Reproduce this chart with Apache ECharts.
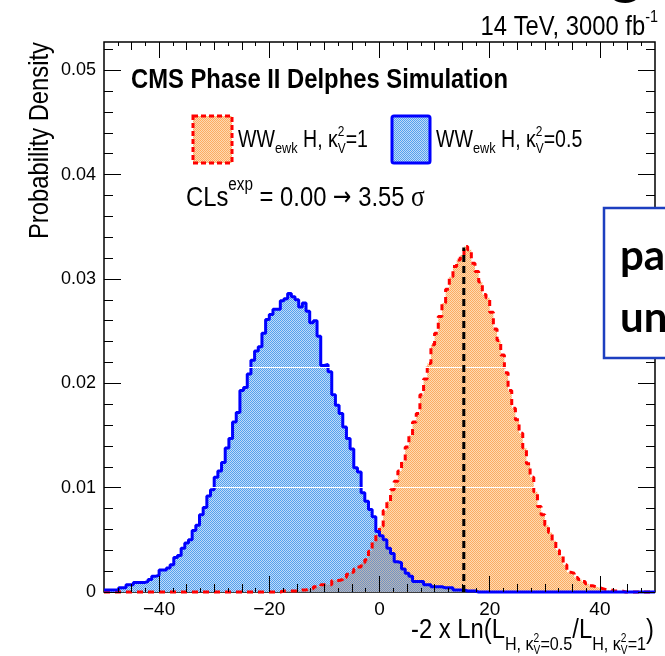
<!DOCTYPE html>
<html>
<head>
<meta charset="utf-8">
<script src="https://cdn.jsdelivr.net/npm/echarts@6/dist/echarts.min.js"></script>
<style>
  html, body { margin: 0; padding: 0; background: #fff; }
  #chart { width: 665px; height: 656px; }
</style>
</head>
<body>
<div id="chart"></div>
<script>
// histogram binning: 150 bins from -50 to 50
const binStart = -50;
const binWidth = 2 / 3;

// WW_ewk H, kappa_V^2 = 0.5  (blue, solid)
const blueValues = [
  0.0002, 0.0002, 0.0002, 0.0002, 0.0004, 0.0004, 0.0007, 0.0007, 0.0009, 0.0009,
  0.0009, 0.0010, 0.0012, 0.0015, 0.0016, 0.0021, 0.0021, 0.0023, 0.0026, 0.0033,
  0.0035, 0.0042, 0.0047, 0.0050, 0.0059, 0.0064, 0.0074, 0.0081, 0.0092, 0.0098,
  0.0110, 0.0116, 0.0124, 0.0138, 0.0147, 0.0163, 0.0172, 0.0193, 0.0196, 0.0209,
  0.0222, 0.0231, 0.0235, 0.0248, 0.0261, 0.0266, 0.0271, 0.0271, 0.0279, 0.0281,
  0.0286, 0.0283, 0.0280, 0.0273, 0.0277, 0.0269, 0.0258, 0.0260, 0.0245, 0.0217,
  0.0218, 0.0211, 0.0189, 0.0179, 0.0171, 0.0158, 0.0147, 0.0137, 0.0119, 0.0115,
  0.0095, 0.0087, 0.0079, 0.0072, 0.0058, 0.0054, 0.0050, 0.0042, 0.0037, 0.0029,
  0.0028, 0.0022, 0.0018, 0.0015, 0.0010, 0.0010, 0.0010, 0.0007, 0.0007, 0.0005,
  0.0005, 0.0005, 0.0004, 0.0004, 0.0004, 0.0002, 0.0002, 0.0002, 0.0001, 0.0001,
  0.0001, 0, 0, 0, 0, 0, 0, 0, 0, 0,
  0, 0, 0, 0, 0, 0, 0, 0, 0, 0,
  0, 0, 0, 0, 0, 0, 0, 0, 0, 0,
  0, 0, 0, 0, 0, 0, 0, 0, 0, 0,
  0, 0, 0, 0, 0, 0, 0, 0, 0, 0
];

// WW_ewk H, kappa_V^2 = 1  (orange, red dashed)
const orangeValues = [
  0, 0, 0, 0, 0, 0, 0, 0, 0, 0,
  0, 0, 0, 0, 0, 0, 0, 0, 0, 0,
  0, 0, 0, 0, 0, 0, 0, 0, 0, 0,
  0, 0, 0, 0, 0, 0, 0, 0, 0, 0,
  0, 0, 0, 0, 0, 0, 0, 0, 0.0001, 0.0001,
  0.0001, 0.0001, 0.0001, 0.0002, 0.0002, 0.0003, 0.0003, 0.0005, 0.0005, 0.0007,
  0.0007, 0.0007, 0.0011, 0.0011, 0.0012, 0.0014, 0.0017, 0.0019, 0.0022, 0.0024,
  0.0028, 0.0031, 0.0039, 0.0048, 0.0055, 0.0063, 0.0078, 0.0087, 0.0098, 0.0106,
  0.0116, 0.0125, 0.0139, 0.0150, 0.0163, 0.0171, 0.0189, 0.0204, 0.0219, 0.0237,
  0.0248, 0.0264, 0.0277, 0.0290, 0.0302, 0.0312, 0.0318, 0.0323, 0.0331, 0.0328,
  0.0315, 0.0307, 0.0297, 0.0285, 0.0282, 0.0268, 0.0252, 0.0241, 0.0227, 0.0210,
  0.0193, 0.0176, 0.0165, 0.0152, 0.0138, 0.0123, 0.0110, 0.0096, 0.0082, 0.0074,
  0.0064, 0.0057, 0.0049, 0.0040, 0.0034, 0.0026, 0.0019, 0.0018, 0.0014, 0.0012,
  0.0010, 0.0008, 0.0006, 0.0005, 0.0004, 0.0003, 0.0002, 0.0002, 0.0001, 0.0001,
  0.0001, 0, 0, 0, 0, 0, 0, 0, 0, 0
];

// median of the kappa_V^2=1 distribution (black dashed line)
const medianX = 15.3;
const medianTop = 0.033;

// white seams visible inside the hatched fills
const seamLevels = [0.01, 0.0215];

const xLabelTicks = [-40, -20, 0, 20, 40];
const xMidTicks = [-45, -35, -30, -25, -15, -10, -5, 5, 10, 15, 25, 30, 35, 45];
const xSmallTicks = [-47.5, -42.5, -37.5, -32.5, -27.5, -22.5, -17.5, -12.5, -7.5, -2.5,
                     2.5, 7.5, 12.5, 17.5, 22.5, 27.5, 32.5, 37.5, 42.5, 47.5];
const yLabelTicks = [0, 0.01, 0.02, 0.03, 0.04, 0.05];
const yMinorTicks = [0.002, 0.004, 0.006, 0.008, 0.012, 0.014, 0.016, 0.018,
                     0.022, 0.024, 0.026, 0.028, 0.032, 0.034, 0.036, 0.038,
                     0.042, 0.044, 0.046, 0.048, 0.052];
const xMin = -50, xMax = 50, yMin = 0, yMax = 0.0527;

const FONT = '"Liberation Sans", Arial, Helvetica, sans-serif';
const SYMBOL_FONT = '"DejaVu Sans", sans-serif';
const SERIF_FONT = '"Liberation Serif", "DejaVu Serif", serif';
const SX = 0.85; // ROOT text is narrower than Arial

function histPoints(vals) {
  const pts = vals.map((v, i) => [binStart + i * binWidth, v]);
  pts.push([binStart + vals.length * binWidth, vals[vals.length - 1]]);
  return pts;
}

function makePattern(a, b) {
  const c = document.createElement('canvas');
  c.width = 2; c.height = 2;
  const g = c.getContext('2d');
  g.fillStyle = a; g.fillRect(0, 0, 1, 1); g.fillRect(1, 1, 1, 1);
  g.fillStyle = b; g.fillRect(1, 0, 1, 1); g.fillRect(0, 1, 1, 1);
  return { image: c, repeat: 'repeat' };
}

const bluePattern = makePattern('rgb(84,160,236)', 'rgb(190,219,250)');
const orangePattern = makePattern('rgb(250,172,100)', 'rgb(255,218,176)');
const overlapPattern = makePattern('rgb(112,146,198)', 'rgb(188,182,178)');

const overlapValues = blueValues.map((v, i) => Math.min(v, orangeValues[i]));

// ---- text helpers (rich text with sub/superscripts) ----
const measureCtx = document.createElement('canvas').getContext('2d');
function fontStr(size, weight, family) {
  return (weight || 'normal') + ' ' + size + 'px ' + (family || FONT);
}
function textWidth(t, size, weight, family) {
  measureCtx.font = fontStr(size, weight, family);
  return measureCtx.measureText(t).width * SX;
}
function txt(x, y, t, size, weight, align, family) {
  align = align || 'left';
  return {
    type: 'text', x: x, y: y, z: 100, scaleX: SX,
    style: {
      text: t, font: fontStr(size, weight, family), fill: '#000',
      align: align, verticalAlign: 'middle',
      textAlign: align, textVerticalAlign: 'middle'
    }
  };
}
function textRun(x, y, pieces, align) {
  const widths = pieces.map(p => p.t !== undefined
    ? textWidth(p.t, p.size, p.weight, p.font)
    : Math.max(textWidth(p.sup, p.size), textWidth(p.sub, p.size)));
  const total = widths.reduce((a, b) => a + b, 0);
  let cx = align === 'right' ? x - total : x;
  const out = [];
  pieces.forEach((p, i) => {
    if (p.t !== undefined) {
      out.push(txt(cx, y + (p.dy || 0), p.t, p.size, p.weight, 'left', p.font));
    } else {
      out.push(txt(cx, y + p.up, p.sup, p.size));
      out.push(txt(cx, y + p.down, p.sub, p.size));
    }
    cx += widths[i];
  });
  return out;
}

// ---- axes ----
function xAx(pos, ticks, len, withLabels) {
  return {
    type: 'value', gridIndex: 0, position: pos, min: xMin, max: xMax, z: 10,
    axisLine: { show: false, onZero: false }, splitLine: { show: false },
    axisTick: { show: true, inside: true, length: len, customValues: ticks,
                lineStyle: { color: '#000', width: 1 } },
    axisLabel: withLabels ? {
      show: true, customValues: ticks, margin: 8, color: '#000',
      fontSize: 19, fontFamily: FONT,
      formatter: v => (v < 0 ? '\u2212' + Math.abs(v) : String(v))
    } : { show: false }
  };
}
function yAx(pos, ticks, len, withLabels) {
  return {
    type: 'value', gridIndex: 0, position: pos, min: yMin, max: yMax, z: 10,
    axisLine: { show: false, onZero: false }, splitLine: { show: false },
    axisTick: { show: true, inside: true, length: len, customValues: ticks,
                lineStyle: { color: '#000', width: 1 } },
    axisLabel: withLabels ? {
      show: true, customValues: ticks, margin: 8, color: '#000',
      fontSize: 18, fontFamily: FONT,
      formatter: v => (v === 0 ? '0' : v.toFixed(2))
    } : { show: false }
  };
}

const graphics = [];
// lumi label
graphics.push(...textRun(658, 27, [
  { t: '14 TeV, 3000 fb', size: 28 },
  { t: '-1', size: 17, dy: -10 }
], 'right'));
// CMS label
graphics.push(txt(131, 80, 'CMS Phase II Delphes Simulation', 28, 'bold'));
// legend boxes
graphics.push({
  type: 'rect', z: 100, shape: { x: 193, y: 116, width: 39, height: 47 },
  style: { fill: orangePattern, stroke: '#ff0000', lineWidth: 3, lineDash: [5, 3] }
});
graphics.push({
  type: 'rect', z: 100, shape: { x: 392, y: 116, width: 38, height: 47, r: 2 },
  style: { fill: bluePattern, stroke: '#0000ff', lineWidth: 3 }
});
graphics.push(...textRun(238, 141, [
  { t: 'WW', size: 23 }, { t: 'ewk', size: 15, dy: 8 }, { t: ' H, \u03ba', size: 23 },
  { sup: '2', sub: 'V', size: 14, up: -9, down: 8 }, { t: '=1', size: 23 }
]));
graphics.push(...textRun(436, 141, [
  { t: 'WW', size: 23 }, { t: 'ewk', size: 15, dy: 8 }, { t: ' H, \u03ba', size: 23 },
  { sup: '2', sub: 'V', size: 14, up: -9, down: 8 }, { t: '=0.5', size: 23 }
]));
// CLs line
graphics.push(...textRun(186, 198, [
  { t: 'CLs', size: 28 }, { t: 'exp', size: 18, dy: -13 },
  { t: ' = 0.00 ', size: 28 },
  { t: '\u2192', size: 26, font: SYMBOL_FONT },
  { t: ' 3.55 ', size: 28 },
  { t: '\u03c3', size: 30, font: SERIF_FONT }
]));
// y title (rotated, reads bottom to top, ends at frame top)
const yTitle = txt(40, 42, 'Probability Density', 28, 'normal', 'right');
yTitle.rotation = Math.PI / 2;
graphics.push(yTitle);
// x title
graphics.push(...textRun(654, 630, [
  { t: '-2 x Ln(L', size: 28 },
  { t: 'H, \u03ba', size: 19, dy: 15 }, { sup: '2', sub: 'V', size: 12, up: 9, down: 21 },
  { t: '=0.5', size: 19, dy: 15 },
  { t: '/L', size: 28 },
  { t: 'H, \u03ba', size: 19, dy: 15 }, { sup: '2', sub: 'V', size: 12, up: 9, down: 21 },
  { t: '=1', size: 19, dy: 15 },
  { t: ')', size: 28 }
], 'right'));
// overlapping slide box
graphics.push({
  type: 'rect', z: 200, shape: { x: 604, y: 208, width: 90, height: 150 },
  style: { fill: '#fff', stroke: '#1d3fc0', lineWidth: 2.5 }
});
graphics.push({
  type: 'text', z: 201, x: 620, y: 256,
  style: { text: 'pa', font: 'bold 42px Lato, "Open Sans", sans-serif', fill: '#000',
           align: 'left', verticalAlign: 'middle', textAlign: 'left', textVerticalAlign: 'middle' }
});
graphics.push({
  type: 'text', z: 201, x: 620, y: 318,
  style: { text: 'un', font: 'bold 42px Lato, "Open Sans", sans-serif', fill: '#000',
           align: 'left', verticalAlign: 'middle', textAlign: 'left', textVerticalAlign: 'middle' }
});
// fragment of a large slide-title letter cut by the top edge
graphics.push({
  type: 'text', z: 201, x: 610, y: -27,
  style: { text: 'g', font: 'bold 60px Lato, "Open Sans", sans-serif', fill: '#000',
           align: 'left', verticalAlign: 'middle', textAlign: 'left', textVerticalAlign: 'middle' }
});

const chart = echarts.init(document.getElementById('chart'), null, { renderer: 'canvas' });
chart.setOption({
  animation: false,
  backgroundColor: '#fff',
  grid: { left: 104, right: 10, top: 42, bottom: 64, show: true,
          borderColor: '#000', borderWidth: 1.5, backgroundColor: 'transparent' },
  xAxis: [
    xAx('bottom', xLabelTicks, 16, true),
    xAx('bottom', xMidTicks, 8, false),
    xAx('bottom', xSmallTicks, 4, false),
    xAx('top', xLabelTicks, 16, false),
    xAx('top', xMidTicks, 8, false),
    xAx('top', xSmallTicks, 4, false)
  ],
  yAxis: [
    yAx('left', yLabelTicks, 17, true),
    yAx('left', yMinorTicks, 9, false),
    yAx('right', yLabelTicks, 17, false),
    yAx('right', yMinorTicks, 9, false)
  ],
  series: [
    {
      name: 'blueFill', type: 'line', step: 'end', data: histPoints(blueValues),
      symbol: 'none', z: 1, silent: true,
      lineStyle: { width: 0, opacity: 0 }, areaStyle: { color: bluePattern, opacity: 1 }
    },
    {
      name: 'orangeFill', type: 'line', step: 'end', data: histPoints(orangeValues),
      symbol: 'none', z: 1, silent: true,
      lineStyle: { width: 0, opacity: 0 }, areaStyle: { color: orangePattern, opacity: 1 }
    },
    {
      name: 'overlapFill', type: 'line', step: 'end', data: histPoints(overlapValues),
      symbol: 'none', z: 2, silent: true,
      lineStyle: { width: 0, opacity: 0 }, areaStyle: { color: overlapPattern, opacity: 1 },
      markLine: {
        silent: true, symbol: ['none', 'none'], label: { show: false },
        lineStyle: { color: '#fff', width: 1, type: 'solid' },
        data: seamLevels.map(v => [{ coord: [-45, v] }, { coord: [45, v] }])
      }
    },
    {
      name: 'orangeLine', type: 'line', step: 'end', data: histPoints(orangeValues),
      symbol: 'none', z: 3, clip: false, silent: true,
      lineStyle: { color: '#ff0000', width: 3, type: [6, 5] }
    },
    {
      name: 'blueLine', type: 'line', step: 'end', data: histPoints(blueValues),
      symbol: 'none', z: 4, clip: false, silent: true,
      lineStyle: { color: '#0000ff', width: 3 }
    },
    {
      name: 'median', type: 'line', data: [[medianX, 0], [medianX, medianTop]],
      symbol: 'none', z: 5, silent: true,
      lineStyle: { color: '#000', width: 3, type: [7, 4] }
    }
  ],
  graphic: { elements: graphics }
});
</script>
</body>
</html>
